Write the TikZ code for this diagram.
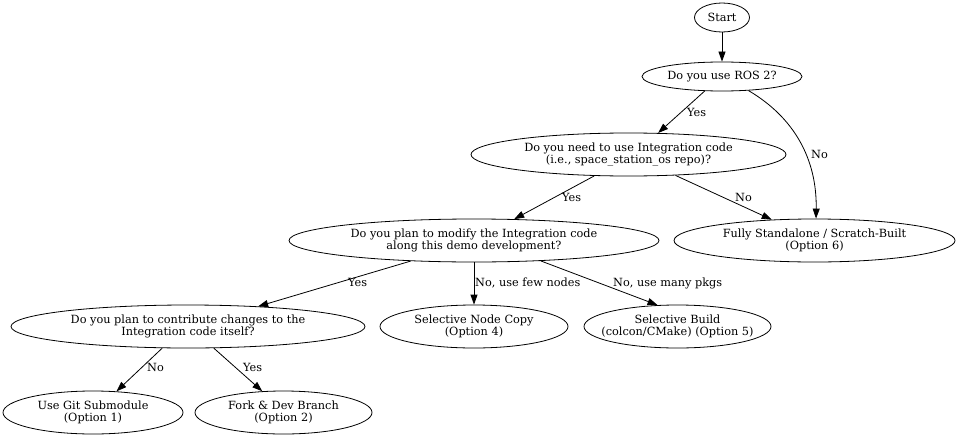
\documentclass[tikz,border=0pt]{standalone}
\usepackage{fontspec}
\setmainfont{DejaVu Serif}
\usetikzlibrary{arrows.meta,shapes.geometric}
\begin{document}
\begin{tikzpicture}[x=1pt,y=-1pt,
  every node/.style={font=\fontsize{11.3}{12}\selectfont},
  dnode/.style={ellipse,draw,line width=0.8pt,inner ysep=0pt,inner xsep=-20pt,minimum height=43pt,align=center},
  conn/.style={draw,line width=0.8pt,-{Triangle[length=10pt,width=7pt]}},
  lbl/.style={anchor=base west,inner sep=0pt}]
\useasboundingbox (0,0) rectangle (960,436);
\fill[white] (0,0) rectangle (960,436);

\node[dnode,minimum width=55pt,minimum height=29pt] (start) at (722,17.5) {Start};
\node[dnode,minimum width=160pt,minimum height=29pt] (ros) at (722,76.5) {Do you use ROS 2?};
\node[dnode,minimum width=315pt] (integ) at (628.5,154.5) {Do you need to use Integration code\\(i.e., space\_station\_os repo)?};
\node[dnode,minimum width=281pt] (fully) at (814.5,240.5) {Fully Standalone / Scratch-Built\\(Option 6)};
\node[dnode,minimum width=370pt] (modify) at (474,240.5) {Do you plan to modify the Integration code\\along this demo development?};
\node[dnode,minimum width=354pt] (contrib) at (188,326.5) {Do you plan to contribute changes to the\\Integration code itself?};
\node[dnode,minimum width=188pt] (copy) at (474,326.5) {Selective Node Copy\\(Option 4)};
\node[dnode,minimum width=187pt] (build) at (677.5,326.5) {Selective Build\\(colcon/CMake) (Option 5)};
\node[dnode,minimum width=180pt] (git) at (93,412.5) {Use Git Submodule\\(Option 1)};
\node[dnode,minimum width=177pt] (fork) at (283.5,412.5) {Fork \& Dev Branch\\(Option 2)};

\draw[conn] (start.south) -- (ros.north);
\draw[conn] (ros.-140.5) -- (integ.36.9);
\draw[conn] (ros.-28) .. controls (795,118) and (817,160) .. (fully.86);
\draw[conn] (integ.-148.6) -- (modify.28.3);
\draw[conn] (integ.-24.6) -- (fully.154);
\draw[conn] (modify.-162.6) -- (contrib.16.7);
\draw[conn] (modify.south) -- (copy.north);
\draw[conn] (modify.-17.4) -- (build.133.6);
\draw[conn] (contrib.-140) -- (git.42.4);
\draw[conn] (contrib.-40) -- (fork.135);

\node[lbl] (l1) at (687,116) {Yes};
\node[lbl] (l2) at (811,158) {No};
\node[lbl] (l3) at (562,201) {Yes};
\node[lbl] (l4) at (735,201) {No};
\node[lbl] (l5) at (348,286) {Yes};
\node[lbl] (l6) at (475,286) {No, use few nodes};
\node[lbl] (l7) at (613,286) {No, use many pkgs};
\node[lbl] (l8) at (147,371) {No};
\node[lbl] (l9) at (243,371) {Yes};
\end{tikzpicture}
\end{document}
